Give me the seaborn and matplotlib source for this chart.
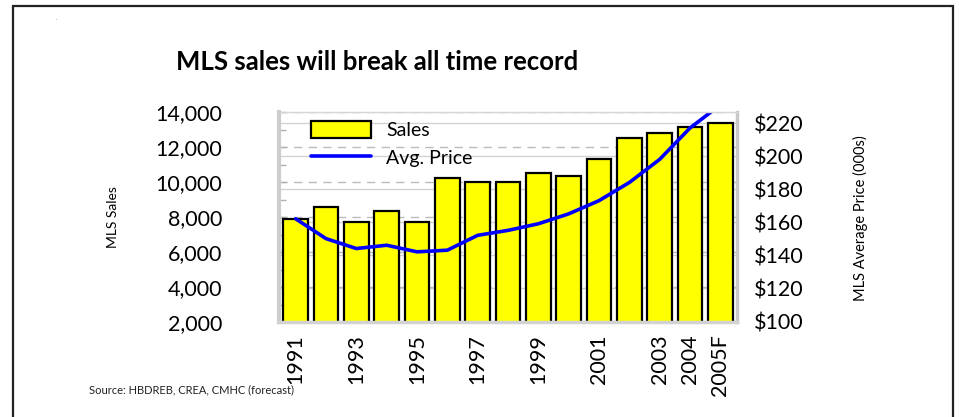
import numpy as np
import pandas as pd
import matplotlib
matplotlib.use("Agg")
import matplotlib.pyplot as plt
import seaborn as sns
from matplotlib.ticker import MultipleLocator, FuncFormatter, FixedLocator
from matplotlib.patches import Rectangle

# ---------------- data ----------------
years = ["1991", "1992", "1993", "1994", "1995", "1996", "1997", "1998",
         "1999", "2000", "2001", "2002", "2003", "2004", "2005F"]
sales = [7900, 8600, 7700, 8350, 7700, 10250, 10000, 10000,
         10500, 10350, 11300, 12500, 12800, 13150, 13350]
avg_price = [162, 150, 144, 146, 142, 143, 152, 155,
             159, 165, 173, 184, 198, 217, 231]
shown_years = ["1991", "1993", "1995", "1997", "1999", "2001", "2003", "2004", "2005F"]
sales_ticks = [2000, 4000, 6000, 8000, 10000, 12000, 14000]
price_ticks = [100, 120, 140, 160, 180, 200, 220]

title = "MLS sales will break all time record"
source = "Source: HBDREB, CREA, CMHC (forecast)"

df = pd.DataFrame({"year": years, "sales": sales, "price": avg_price})

# ---------------- style ----------------
sns.set_theme(style="white")
plt.rcParams["font.family"] = ["Lato", "DejaVu Sans"]
plt.rcParams["text.color"] = "black"

W, H = 959, 417
fig = plt.figure(figsize=(W / 100, H / 100), dpi=100)
fig.patch.set_facecolor("white")

L, R, T, B = 279, 737, 111.5, 322
pos = [L / W, 1 - B / H, (R - L) / W, (B - T) / H]

sales_lim = (2000, 14030)
price_lim = (99.5, 227)

# background axes: solid gridlines of the price scale
ax_bg = fig.add_axes(pos)
ax_bg.set_ylim(*price_lim)
ax_bg.yaxis.set_major_locator(FixedLocator(price_ticks))
ax_bg.grid(axis="y", color="#d2d2d2", linewidth=1.0, linestyle="-")
ax_bg.tick_params(left=False, bottom=False, labelleft=False, labelbottom=False)
for s in ax_bg.spines.values():
    s.set_visible(False)
ax_bg.set_facecolor("white")

# bar axes
ax = fig.add_axes(pos)
ax.patch.set_visible(False)
sns.barplot(data=df, x="year", y="sales", ax=ax, color="#ffff00",
            saturation=1, edgecolor="black", linewidth=1.6, width=0.82,
            label="Sales", zorder=3)
if ax.get_legend() is not None:
    ax.get_legend().remove()
ax.set_ylim(*sales_lim)
ax.set_axisbelow(True)
ax.yaxis.set_major_locator(FixedLocator(sales_ticks))
ax.yaxis.set_minor_locator(MultipleLocator(1000))
ax.yaxis.set_major_formatter(FuncFormatter(lambda v, p: f"{int(v):,}"))
ax.yaxis.grid(True, which="major", color="#bcbcbc", linewidth=1.0,
              linestyle=(0, (6, 4.5)))
ax.tick_params(axis="y", which="both", direction="in", length=5, width=1,
               color="#b0b0b0", left=True, labelsize=15.5, pad=41,
               labelcolor="black")
ax.set_xlabel("")
ax.set_ylabel("")
for s in ax.spines.values():
    s.set_visible(False)

# line axes
ax2 = ax.twinx()
sns.lineplot(data=df, x="year", y="price", ax=ax2, color="#0000ff",
             linewidth=2.6, legend=False, label="Avg. Price", sort=False)
if ax2.get_legend() is not None:
    ax2.get_legend().remove()
ax2.set_ylim(*price_lim)
ax2.yaxis.set_major_locator(FixedLocator(price_ticks))
ax2.yaxis.set_major_formatter(FuncFormatter(lambda v, p: f"${int(v)}"))
ax2.tick_params(axis="y", length=0, pad=12, labelsize=15.5, labelcolor="black")
ax2.set_ylabel("")
ax2.set_xlabel("")

# x ticks
idx = [years.index(y) for y in shown_years]
ax.set_xticks(idx)
ax.set_xticklabels(shown_years, rotation=90)
ax.tick_params(axis="x", length=0, pad=9, labelsize=15.5, labelcolor="black")
ax.set_xlim(-0.55, len(years) - 0.45)
ax2.set_xlim(-0.55, len(years) - 0.45)
ax2.tick_params(axis="x", bottom=False, labelbottom=False, top=False, labeltop=False)

# plot frame
for name, lw, col in [("left", 3.0, "#cdcdcd"), ("bottom", 2.5, "#d2d2d2"),
                      ("right", 2.5, "#c8c8c8"), ("top", 1.0, "#d6d6d6")]:
    sp = ax2.spines[name]
    sp.set_visible(True)
    sp.set_linewidth(lw)
    sp.set_color(col)

# legend
h1, l1 = ax.get_legend_handles_labels()
h2, l2 = ax2.get_legend_handles_labels()
leg = ax2.legend(h1 + h2, l1 + l2, loc="upper left",
                 bbox_to_anchor=((310.5 - L) / (R - L), (B - 121) / (B - T)),
                 frameon=False, fontsize=14, handlelength=3.1,
                 handleheight=0.95, handletextpad=0.8, labelspacing=0.5,
                 borderpad=0, borderaxespad=0)

# texts
fig.text(377 / W, 1 - 62 / H, title, ha="center", va="center",
         fontsize=18.5, fontweight="bold", color="black")
fig.text(113 / W, 1 - 217 / H, "MLS Sales", rotation=90, ha="center",
         va="center", fontsize=10, color="black")
fig.text(860 / W, 1 - 218 / H, "MLS Average Price (000s)", rotation=90,
         ha="center", va="center", fontsize=10.5, color="black")
fig.text(89 / W, 1 - 390 / H, source, ha="left", va="center",
         fontsize=8, color="#222222")
fig.text(56 / W, 1 - 18 / H, ".", ha="center", va="center",
         fontsize=4, color="#666666")

# outer frame
top = 1 - 5.5 / H
frame = Rectangle((12.5 / W, -0.1), (953 - 12.5) / W, top + 0.1,
                  transform=fig.transFigure, fill=False,
                  edgecolor="#222222", linewidth=1.6)
fig.patches.append(frame)

fig.savefig("out.png", dpi=100)
